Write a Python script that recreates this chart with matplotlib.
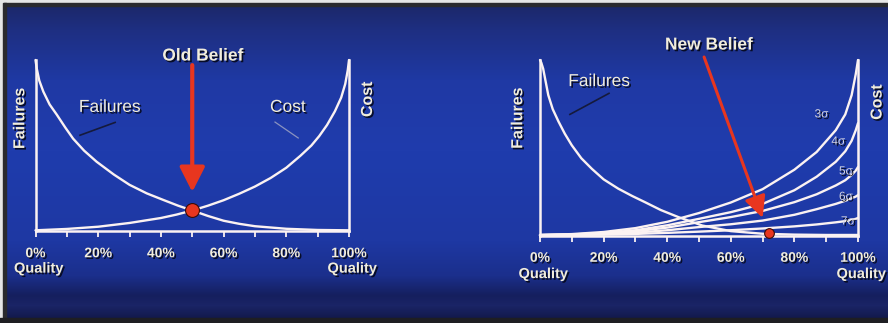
import numpy as np
import matplotlib.pyplot as plt
import matplotlib.patheffects as pe
from matplotlib.colors import to_rgb

# quality axis (fraction of 100%) and curve heights (fraction of panel height)
fail_old_x = [0, 0.004, 0.012, 0.025, 0.045, 0.068, 0.095, 0.12, 0.155, 0.195, 0.25, 0.3, 0.355, 0.41, 0.455, 0.5, 0.55, 0.6, 0.65, 0.7, 0.8, 0.9, 1.0]
fail_old_y = [1.0, 0.95, 0.88, 0.815, 0.74, 0.68, 0.605, 0.54, 0.47, 0.405, 0.33, 0.27, 0.22, 0.18, 0.148, 0.12, 0.088, 0.06, 0.042, 0.028, 0.013, 0.006, 0.004]
cost_old_x = [0, 0.1, 0.2, 0.3, 0.4, 0.45, 0.5, 0.55, 0.6, 0.65, 0.7, 0.75, 0.8, 0.845, 0.88, 0.905, 0.93, 0.955, 0.975, 0.988, 0.996, 1.0]
cost_old_y = [0.004, 0.012, 0.025, 0.047, 0.076, 0.096, 0.12, 0.148, 0.18, 0.218, 0.26, 0.31, 0.37, 0.44, 0.5, 0.555, 0.62, 0.7, 0.78, 0.86, 0.94, 1.0]

fail_new_x = [0, 0.004, 0.01, 0.026, 0.04, 0.058, 0.078, 0.1, 0.13, 0.163, 0.2, 0.246, 0.29, 0.33, 0.38, 0.435, 0.51, 0.6, 0.7, 0.8, 0.9, 1.0]
fail_new_y = [1.0, 0.985, 0.95, 0.8, 0.72, 0.65, 0.58, 0.514, 0.44, 0.38, 0.32, 0.267, 0.225, 0.19, 0.145, 0.105, 0.057, 0.025, 0.01, 0.005, 0.003, 0.003]

sigma_x = [0, 0.1, 0.2, 0.3, 0.4, 0.5, 0.6, 0.7, 0.8, 0.87, 0.93, 0.96, 0.98, 0.993, 1.0]
sigma_curves = {
    '3σ': [0.003, 0.008, 0.02, 0.042, 0.078, 0.128, 0.188, 0.264, 0.375, 0.476, 0.6, 0.69, 0.8, 0.92, 1.0],
    '4σ': [0.003, 0.006, 0.014, 0.03, 0.058, 0.095, 0.133, 0.18, 0.258, 0.335, 0.42, 0.48, 0.54, 0.6, 0.64],
    '5σ': [0.002, 0.005, 0.011, 0.024, 0.045, 0.076, 0.105, 0.14, 0.19, 0.235, 0.285, 0.315, 0.345, 0.37, 0.39],
    '6σ': [0.002, 0.004, 0.008, 0.016, 0.03, 0.048, 0.064, 0.085, 0.118, 0.15, 0.18, 0.198, 0.212, 0.222, 0.23],
    '7σ': [0.002, 0.003, 0.005, 0.009, 0.015, 0.022, 0.03, 0.04, 0.052, 0.063, 0.075, 0.082, 0.089, 0.095, 0.1],
}
sigma_label_pos = {'3σ': (0.885, 0.69), '4σ': (0.938, 0.535), '5σ': (0.962, 0.365),
                   '6σ': (0.962, 0.22), '7σ': (0.968, 0.08)}

tick_pos = [0, 0.2, 0.4, 0.6, 0.8, 1.0]
tick_labels = ['0%', '20%', '40%', '60%', '80%', '100%']

old_point = (0.5, 0.12)
new_point = (0.72, 0.014)

W, H = 888, 323
TXT = '#f1eddc'
LINE = '#fbf2f2'
RED = '#e8361f'
FONT = ['Liberation Sans', 'DejaVu Sans']
shadow = [pe.withSimplePatchShadow(offset=(1.2, -1.2), shadow_rgbFace='#05081a', alpha=0.9)]

fig = plt.figure(figsize=(W / 100, H / 100), dpi=100)

# background gradient
bg = fig.add_axes([0, 0, 1, 1])
stops = [(0, '#1b2665'), (30, '#1e2f82'), (80, '#1f39a4'), (150, '#1f3cad'),
         (240, '#1e38a3'), (275, '#1b2f8c'), (295, '#151f5e'), (305, '#1a2466'), (323, '#0f1540')]
rows = np.arange(H)
grad = np.zeros((H, 1, 3))
for c in range(3):
    grad[:, 0, c] = np.interp(rows, [s[0] for s in stops], [to_rgb(s[1])[c] for s in stops])
bg.imshow(grad, aspect='auto', extent=[0, W, H, 0])
bg.set_xlim(0, W)
bg.set_ylim(H, 0)
bg.axis('off')
# frame edges
bg.fill_between([0, W], 0, 3, color='#e6e6e6')
bg.fill_between([0, W], 3, 6, color='#2a2a2e')
bg.fill_between([0, 3], 0, H, color='#e6e6e6')
bg.fill_between([3, 5.5], 3, H, color='#2a2a2e')
bg.fill_between([0, W], 318, H, color='#1e1e22')


def panel(box):
    x0, y0, x1, y1 = box
    ax = fig.add_axes([x0 / W, 1 - y1 / H, (x1 - x0) / W, (y1 - y0) / H])
    ax.set_facecolor('none')
    ax.set_xlim(0, 1)
    ax.set_ylim(0, 1)
    for side in ['left', 'right', 'bottom']:
        ax.spines[side].set_color(LINE)
        ax.spines[side].set_linewidth(1.8)
    ax.spines['top'].set_visible(False)
    ax.set_yticks([])
    ax.set_xticks(tick_pos)
    ax.set_xticks(np.arange(0.1, 1.0, 0.2), minor=True)
    ax.tick_params(axis='x', which='both', colors=LINE, length=4, width=1.3, pad=7)
    ax.set_xticklabels(tick_labels, color=TXT, fontsize=10, fontweight='bold', family=FONT)
    for lab in ax.get_xticklabels():
        lab.set_path_effects(shadow)
    for xq in (0, 1.0):
        ax.text(xq + 0.01, -0.22, 'Quality', transform=ax.transAxes, ha='center', va='center',
                color=TXT, fontsize=10.5, fontweight='bold', family=FONT, path_effects=shadow)
    return ax


def curve(ax, x, y):
    ax.plot(x, y, color=LINE, lw=1.7, clip_on=False, solid_capstyle='round')


def side_labels(ax, fx, cx, y_f, y_c):
    ax.text(fx, y_f, 'Failures', transform=ax.transAxes, rotation=90, ha='center', va='center',
            color=TXT, fontsize=11.5, fontweight='bold', family=FONT, path_effects=shadow)
    ax.text(cx, y_c, 'Cost', transform=ax.transAxes, rotation=90, ha='center', va='center',
            color=TXT, fontsize=11.5, fontweight='bold', family=FONT, path_effects=shadow)


# left panel: old belief
ax1 = panel((35.5, 60, 349, 231))
curve(ax1, fail_old_x, fail_old_y)
curve(ax1, cost_old_x, cost_old_y)
side_labels(ax1, -0.05, 1.059, 0.66, 0.77)
ax1.text(0.237, 0.723, 'Failures', ha='center', va='center', color=TXT, fontsize=12.5,
         family=FONT, path_effects=shadow)
ax1.plot([0.142, 0.254], [0.56, 0.635], color='#151a3c', lw=1.2)
ax1.text(0.805, 0.723, 'Cost', ha='center', va='center', color=TXT, fontsize=12.5,
         family=FONT, path_effects=shadow)
ax1.plot([0.764, 0.838], [0.637, 0.544], color='#8a93c0', lw=0.9)
ax1.annotate('', xy=(0.5, 0.228), xytext=(0.5, 0.97),
             arrowprops=dict(arrowstyle='-|>,head_length=0.75,head_width=0.38', color=RED,
                             lw=3, shrinkA=0, shrinkB=0, mutation_scale=20))
ax1.text(0.534, 1.023, 'Old Belief', ha='center', va='center', color=TXT, fontsize=12.5,
         fontweight='bold', family=FONT, path_effects=shadow)
ax1.plot(*old_point, 'o', ms=10, color=RED, mec='#3a0c08', mew=0.8, clip_on=False, zorder=5)

# right panel: new belief
ax2 = panel((540, 60, 858, 235.5))
for name, ys in sigma_curves.items():
    curve(ax2, sigma_x, ys)
curve(ax2, fail_new_x, fail_new_y)
side_labels(ax2, -0.07, 1.06, 0.67, 0.76)
for name, (lx, ly) in sigma_label_pos.items():
    ax2.text(lx, ly, name, ha='center', va='center', color='#d4d4e2', fontsize=8.5,
             family=FONT, path_effects=shadow)
ax2.text(0.186, 0.877, 'Failures', ha='center', va='center', color=TXT, fontsize=12.5,
         family=FONT, path_effects=shadow)
ax2.plot([0.094, 0.217], [0.69, 0.81], color='#151a3c', lw=1.2)
ax2.annotate('', xy=(0.70, 0.10), xytext=(0.516, 1.017),
             arrowprops=dict(arrowstyle='-|>,head_length=0.65,head_width=0.32', color=RED,
                             lw=2.2, shrinkA=0, shrinkB=0, mutation_scale=20))
ax2.text(0.531, 1.085, 'New Belief', ha='center', va='center', color=TXT, fontsize=12.5,
         fontweight='bold', family=FONT, path_effects=shadow)
ax2.plot(*new_point, 'o', ms=7, color=RED, mec='#3a0c08', mew=0.8, clip_on=False, zorder=5)

fig.savefig('out.png', dpi=100)
